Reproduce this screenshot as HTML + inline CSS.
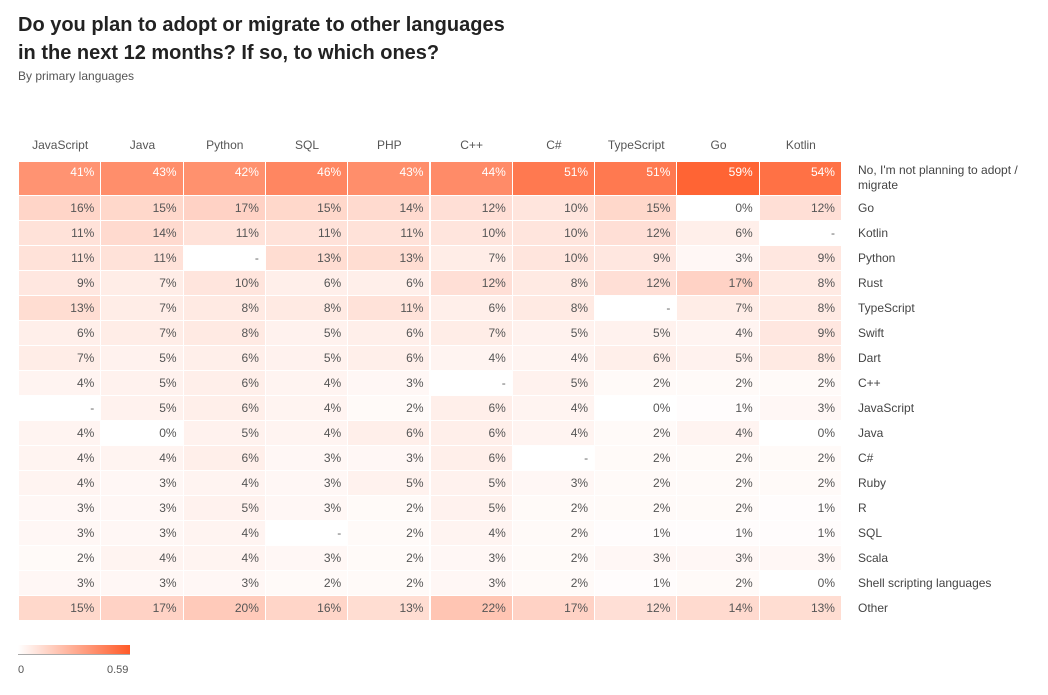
<!DOCTYPE html>
<html><head><meta charset="utf-8"><style>
body{margin:0;background:#fff;font-family:"Liberation Sans",sans-serif;width:1048px;height:695px;position:relative;overflow:hidden}
.abs{position:absolute}
.cell{position:absolute;box-sizing:border-box;font-size:12px;text-align:right;padding-right:6px;padding-top:5px}
.hdr{position:absolute;font-size:12px;color:#555;text-align:center}
.rl{position:absolute;font-size:12px;color:#444;line-height:15px}
</style></head><body>
<div class="abs" style="left:18px;top:11px;font-size:20px;font-weight:bold;color:#222;line-height:28px">Do you plan to adopt or migrate to other languages<br>in the next 12 months? If so, to which ones?</div>
<div class="abs" style="left:18px;top:69px;font-size:12px;color:#555">By primary languages</div>
<div id="grid"></div>
<div class="abs" style="left:18px;top:645px;width:112px;height:9px;background:linear-gradient(to right,#fff,#ff5a28);border-bottom:1px solid #aaa"></div>
<div class="abs" style="left:18px;top:664px;font-size:11px;color:#555">0</div>
<div class="abs" style="left:107px;top:664px;font-size:11px;color:#555">0.59</div>
<script>
const columns=["JavaScript","Java","Python","SQL","PHP","C++","C#","TypeScript","Go","Kotlin"];
const rowsLabels=["No, I'm not planning to adopt / migrate","Go","Kotlin","Python","Rust","TypeScript","Swift","Dart","C++","JavaScript","Java","C#","Ruby","R","SQL","Scala","Shell scripting languages","Other"];
const values=[
[41,43,42,46,43,44,51,51,59,54],
[16,15,17,15,14,12,10,15,0,12],
[11,14,11,11,11,10,10,12,6,null],
[11,11,null,13,13,7,10,9,3,9],
[9,7,10,6,6,12,8,12,17,8],
[13,7,8,8,11,6,8,null,7,8],
[6,7,8,5,6,7,5,5,4,9],
[7,5,6,5,6,4,4,6,5,8],
[4,5,6,4,3,null,5,2,2,2],
[null,5,6,4,2,6,4,0,1,3],
[4,0,5,4,6,6,4,2,4,0],
[4,4,6,3,3,6,null,2,2,2],
[4,3,4,3,5,5,3,2,2,2],
[3,3,5,3,2,5,2,2,2,1],
[3,3,4,null,2,4,2,1,1,1],
[2,4,4,3,2,3,2,3,3,3],
[3,3,3,2,2,3,2,1,2,0],
[15,17,20,16,13,22,17,12,14,13]];
const maxV=59;
const x0=19,cw=82.3,y0=162,firstH=34,rh=25;
const g=document.getElementById('grid');
function xPos(i){return x0+i*cw;}
function yPos(r){return r===0?y0:y0+firstH+(r-1)*rh;}
function color(v){const t=v/maxV;return `rgb(255,${Math.round(255-t*(255-100))},${Math.round(255-t*(255-52))})`;}
columns.forEach((c,i)=>{const d=document.createElement('div');d.className='hdr';


d.style.left=xPos(i)+'px';d.style.width=cw+'px';d.style.top='138px';d.textContent=c;g.appendChild(d);});
values.forEach((row,r)=>{
 const h=r===0?firstH:rh;
 row.forEach((v,i)=>{const d=document.createElement('div');d.className='cell';
 
 
 d.style.left=xPos(i)+'px';d.style.top=yPos(r)+'px';d.style.width=(cw-1)+'px';d.style.height=(h-1)+'px';
 d.style.paddingTop=(r===0?3:5)+'px';
 if(v===null){d.style.background='#fff';d.style.color='#666';d.textContent='-';}
 else{d.style.background=color(v);d.style.color=v>=40?'#fff':'#555';d.textContent=v+'%';}
 g.appendChild(d);});
 const l=document.createElement('div');l.className='rl';
 
 
 l.style.left='858px';l.style.width='180px';l.style.top=(yPos(r)+(r===0?1:5))+'px';l.textContent=rowsLabels[r];g.appendChild(l);
});
</script>
</body></html>
